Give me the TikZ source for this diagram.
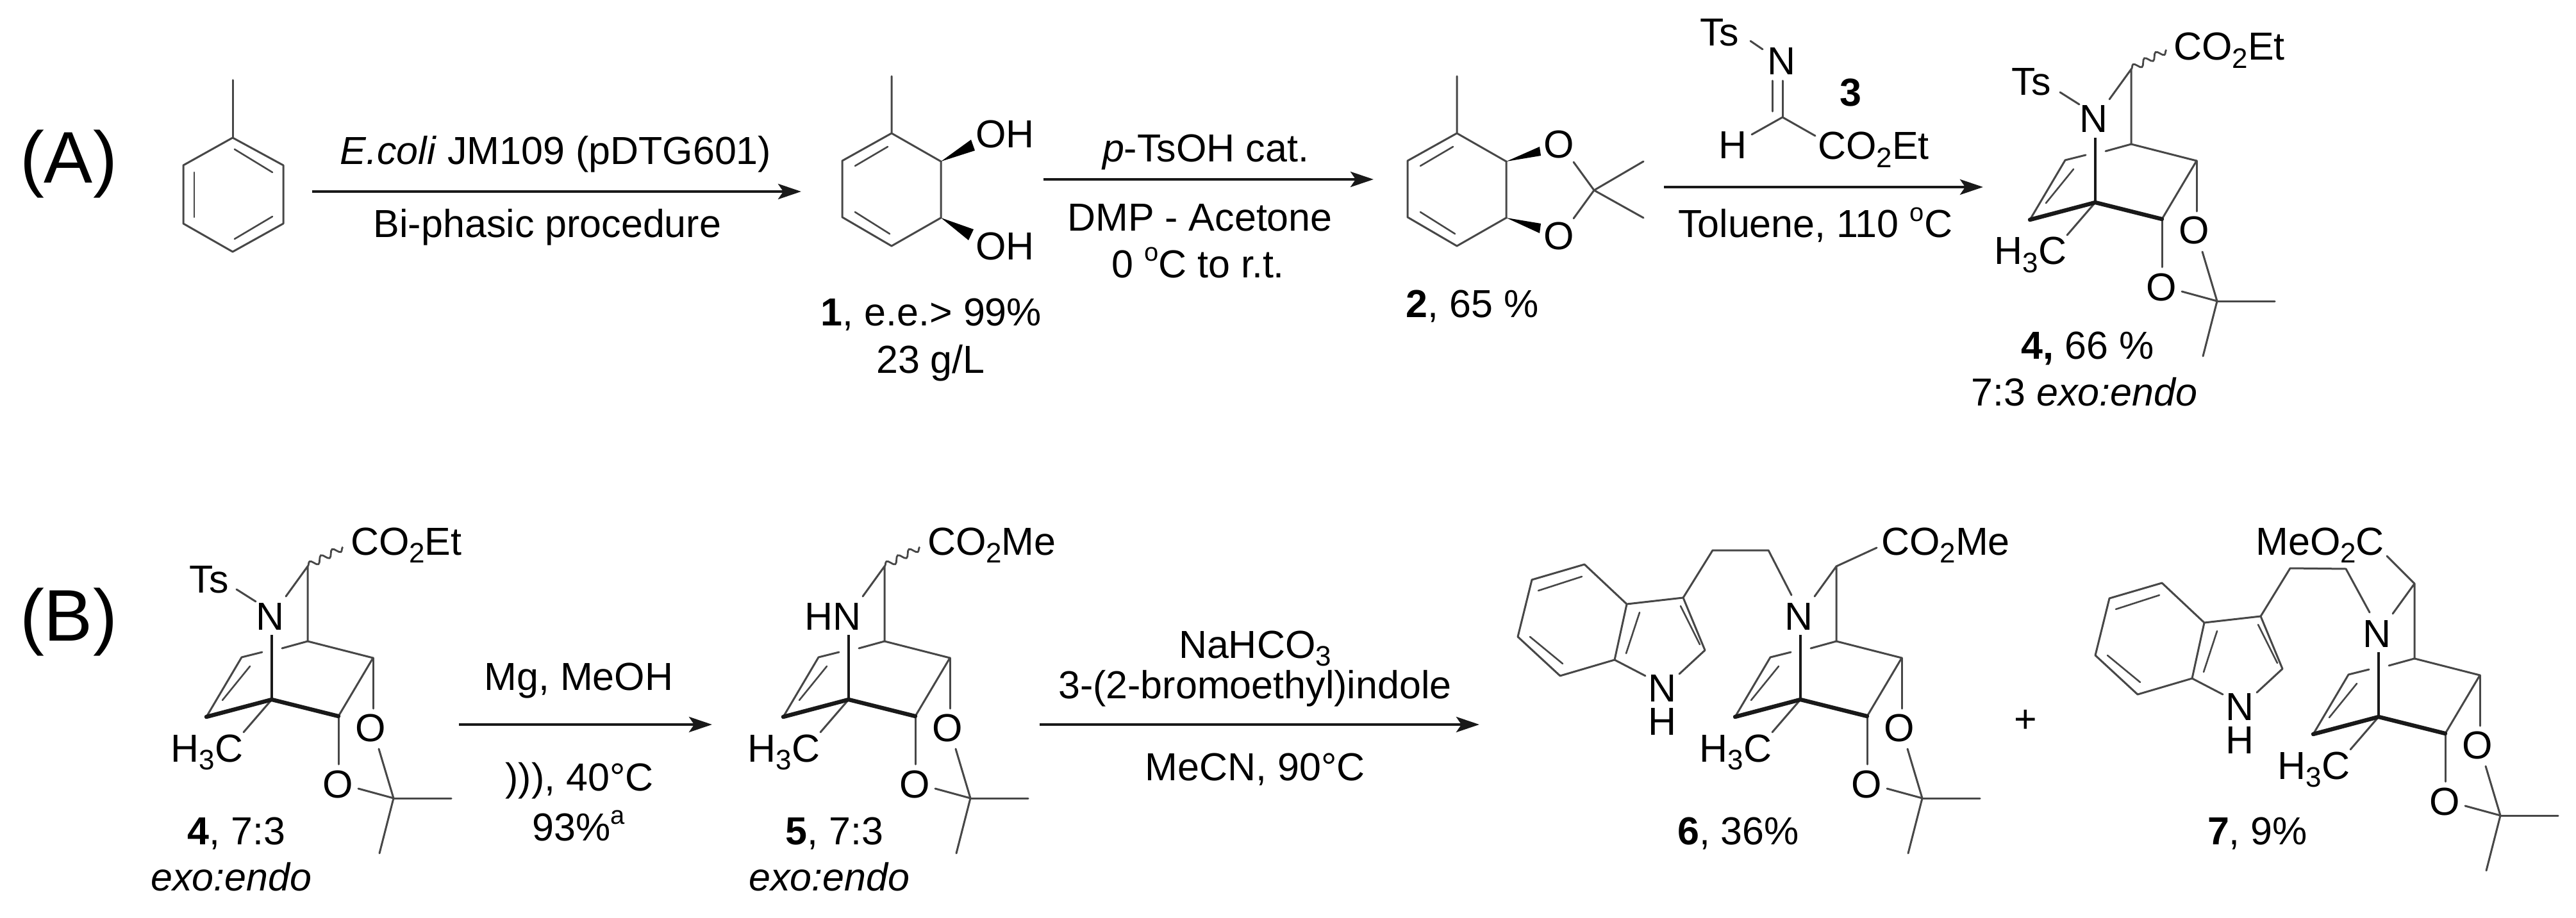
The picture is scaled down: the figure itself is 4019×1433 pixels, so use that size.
\documentclass[tikz,border=0pt]{standalone}
\usepackage{fontspec}
\setmainfont{Liberation Sans}
\usetikzlibrary{arrows.meta,decorations.pathmorphing}
\newcommand\chemdn[1]{\raisebox{-.2em}{\fontsize{22}{22}\selectfont #1}}
\newcommand\chemup[1]{\raisebox{.42em}{\fontsize{20}{20}\selectfont #1}}
\tikzset{
  lab/.style={anchor=base,inner sep=0pt,outer sep=0pt,text=black,font=\fontsize{30.5}{36}\selectfont},
  panel/.style={anchor=base,inner sep=0pt,outer sep=0pt,text=black,font=\fontsize{57}{66}\selectfont},
  bond/.style={draw=black!72,line width=1.5pt,line cap=round,line join=round},
  inner/.style={bond,line width=1.3pt},
  bold/.style={draw=black!90,line width=3.2pt,line cap=round,line join=round},
  semibold/.style={draw=black!90,line width=2.2pt,line cap=butt},
  wedge/.style={fill=black,draw=none},
  wavy/.style={draw=black!72,line width=1.4pt,decorate,decoration={snake,amplitude=2.6pt,segment length=10pt}},
  rxn/.style={draw=black!90,line width=2.2pt,-{Stealth[length=18pt,width=12pt,inset=4pt]}},
  pics/bicyc/.style={code={
    \coordinate (C7) at (3325,108);
    \coordinate (C1) at (3325,225);
    \coordinate (gapa) at (3285,236);
    \coordinate (gapb) at (3254,242);
    \coordinate (Ca) at (3222,250);
    \coordinate (Cb) at (3167,343);
    \coordinate (ina) at (3235,264);
    \coordinate (inb) at (3192,317);
    \coordinate (C4) at (3269,316);
    \coordinate (C5) at (3373,342);
    \coordinate (C6) at (3427,251);
    \coordinate (Nb) at (3269,215);
    \coordinate (Nr) at (3291,155);
    \coordinate (Qc) at (3459,470);
    \coordinate (Mea) at (3549,470);
    \coordinate (Meb) at (3437,556);
    \coordinate (Mec) at (3225,367);
    \coordinate (Ouu) at (3427,330);
    \coordinate (Ulu) at (3373,417);
    \coordinate (Oud) at (3436,393);
    \coordinate (Uld) at (3404,455);
    \node[lab,anchor=base east] (N) at (3289,207) {#1};
    \node[lab] (Ou) at (3423,381) {O};
    \node[lab] (Ol) at (3372,469) {O};
    \node[lab] (Hm) at (3168,413) {H\chemdn{3}C};
    \draw[bond] (Nr) -- (C7) -- (C1) -- (gapa);
    \draw[bond] (gapb) -- (Ca) -- (Cb);
    \draw[inner] (ina) -- (inb);
    \draw[bond] (C1) -- (C6) -- (C5);
    \draw[bond] (C6) -- (Ouu);
    \draw[bond] (C5) -- (Ulu);
    \draw[bond] (Oud) -- (Qc) -- (Uld);
    \draw[bond] (Qc) -- (Mea);
    \draw[bond] (Qc) -- (Meb);
    \draw[bond] (C4) -- (Mec);
    \draw[semibold] (Nb) -- (C4);
    \draw[bold] (Cb) -- (C4) -- (C5);
  }},
  pics/diene/.style={code={
    \coordinate (top) at (2273,208);
    \coordinate (me) at (2273,119);
    \coordinate (ul) at (2196,251);
    \coordinate (ll) at (2196,339);
    \coordinate (bot) at (2273,384);
    \coordinate (ur) at (2350,252);
    \coordinate (lr) at (2350,340);
    \coordinate (ia) at (2216,259);
    \coordinate (ib) at (2267,229);
    \coordinate (ic) at (2216,331);
    \coordinate (id) at (2270,365);
    \draw[bond] (me) -- (top) -- (ul) -- (ll) -- (bot) -- (lr) -- (ur) -- (top);
    \draw[inner] (ia) -- (ib);
    \draw[inner] (ic) -- (id);
  }},
  pics/indole/.style={code={
    \coordinate (C3) at (2626,933);
    \coordinate (C3a) at (2538,943);
    \coordinate (C4) at (2472,881);
    \coordinate (C5) at (2390,905);
    \coordinate (C6) at (2368,994);
    \coordinate (C7) at (2434,1055);
    \coordinate (C7a) at (2519,1030);
    \coordinate (C2) at (2660,1015);
    \coordinate (Na) at (2567,1055);
    \coordinate (Nb) at (2620,1052);
    \coordinate (ia) at (2622,946);
    \coordinate (ib) at (2652,1006);
    \coordinate (ic) at (2558,956);
    \coordinate (id) at (2537,1020);
    \coordinate (ie) at (2468,900);
    \coordinate (if) at (2400,922);
    \coordinate (ig) at (2387,994);
    \coordinate (ih) at (2438,1036);
    \node[lab] (N) at (2593,1095) {N};
    \node[lab] (H) at (2593,1147) {H};
    \draw[bond] (C3) -- (C3a) -- (C4) -- (C5) -- (C6) -- (C7) -- (C7a) -- (C3a);
    \draw[bond] (C3) -- (C2) -- (Nb);
    \draw[bond] (C7a) -- (Na);
    \draw[inner] (ia) -- (ib);
    \draw[inner] (ic) -- (id);
    \draw[inner] (ie) -- (if);
    \draw[inner] (ig) -- (ih);
  }}
}
\begin{document}
\begin{tikzpicture}[x=0.5pt,y=-0.5pt]
\useasboundingbox (0,0) rectangle (4019,1433);
% Panel labels
\node[panel] (panelA) at (107,286) {(A)};
\node[panel] (panelB) at (107,1000) {(B)};
% Toluene
\coordinate (bme) at (363,125);
\coordinate (b1) at (363,215);
\coordinate (b2) at (442,258);
\coordinate (b3) at (442,349);
\coordinate (b4) at (363,393);
\coordinate (b5) at (286,349);
\coordinate (b6) at (286,258);
\coordinate (bi1) at (366,233);
\coordinate (bi2) at (425,269);
\coordinate (bi3) at (303,269);
\coordinate (bi4) at (303,339);
\coordinate (bi5) at (425,338);
\coordinate (bi6) at (366,373);
\draw[bond] (bme) -- (b1);
\draw[bond] (b1) -- (b2) -- (b3) -- (b4) -- (b5) -- (b6) -- cycle;
\draw[inner] (bi1) -- (bi2);
\draw[inner] (bi3) -- (bi4);
\draw[inner] (bi5) -- (bi6);
% Arrow 1
\coordinate (a1s) at (487,299);
\coordinate (a1e) at (1250,299);
\draw[rxn] (a1s) -- (a1e);
\node[lab] (t1a) at (867,257) {\textit{E.coli} JM109 (pDTG601)};
\node[lab] (t1b) at (854,371) {Bi-phasic procedure};
% Compound 1
\pic (one) at (-882,0) {diene};
\coordinate (w1a) at (1515,218);
\coordinate (w1b) at (1521,235);
\coordinate (w1c) at (1519,358);
\coordinate (w1d) at (1511,375);
\fill[wedge] (oneur) -- (w1a) -- (w1b) -- cycle;
\fill[wedge] (onelr) -- (w1c) -- (w1d) -- cycle;
\node[lab,anchor=base west] (oh1) at (1522,231) {OH};
\node[lab,anchor=base west] (oh2) at (1522,406) {OH};
\node[lab] (lab1) at (1453,508) {\textbf{1}, e.e.> 99\%};
\node[lab] (lab1b) at (1452,582) {23 g/L};
% Arrow 2
\coordinate (a2s) at (1628,280);
\coordinate (a2e) at (2143,280);
\draw[rxn] (a2s) -- (a2e);
\node[lab] (t2a) at (1881,253) {\textit{p}-TsOH cat.};
\node[lab] (t2b) at (1872,361) {DMP - Acetone};
\node[lab] (t2c) at (1869,433) {0 \chemup{o}C to r.t.};
% Compound 2
\pic (two) at (0,0) {diene};
\node[lab] (o2a) at (2432,247) {O};
\node[lab] (o2b) at (2432,390) {O};
\coordinate (w2a) at (2402,229);
\coordinate (w2b) at (2404,243);
\coordinate (w2c) at (2404,349);
\coordinate (w2d) at (2402,364);
\fill[wedge] (twour) -- (w2a) -- (w2b) -- cycle;
\fill[wedge] (twolr) -- (w2c) -- (w2d) -- cycle;
\coordinate (q2) at (2487,297);
\coordinate (q2a) at (2455,253);
\coordinate (q2b) at (2455,341);
\coordinate (q2c) at (2564,252);
\coordinate (q2d) at (2564,340);
\draw[bond] (q2a) -- (q2) -- (q2b);
\draw[bond] (q2c) -- (q2) -- (q2d);
\node[lab] (lab2) at (2297,495) {\textbf{2}, 65 \%};
% Arrow 3 with imine 3
\coordinate (a3s) at (2596,292);
\coordinate (a3e) at (3094,292);
\draw[rxn] (a3s) -- (a3e);
\node[lab,anchor=base west] (ts3) at (2652,72) {Ts};
\node[lab] (n3) at (2779,117) {N};
\node[lab] (h3) at (2703,248) {H};
\node[lab,anchor=base west] (ce3) at (2836,249) {CO\chemdn{2}Et};
\node[lab] (num3) at (2887,166) {\textbf{3}};
\coordinate (i1) at (2731,64);
\coordinate (i2) at (2750,77);
\coordinate (i3) at (2765,126);
\coordinate (i4) at (2765,174);
\coordinate (i5) at (2781,126);
\coordinate (ic) at (2781,183);
\coordinate (i6) at (2733,210);
\coordinate (i7) at (2832,212);
\draw[bond] (i1) -- (i2);
\draw[bond] (i3) -- (i4);
\draw[bond] (i5) -- (ic);
\draw[bond] (i6) -- (ic) -- (i7);
\node[lab] (t3) at (2832,371) {Toluene, 110 \chemup{o}C};
% Compound 4 (A)
\pic (pA) at (0,0) {bicyc=N};
\node[lab] (tsA) at (3169,149) {Ts};
\coordinate (tsAa) at (3214,144);
\coordinate (tsAb) at (3244,163);
\draw[bond] (tsAa) -- (tsAb);
\coordinate (wA) at (3380,78);
\draw[wavy] (pAC7) -- (wA);
\node[lab,anchor=base west] (ceA) at (3391,94) {CO\chemdn{2}Et};
\node[lab] (lab4) at (3257,560) {\textbf{4,} 66 \%};
\node[lab] (lab4b) at (3252,633) {7:3 \textit{exo:endo}};
% Compound 4 (B)
\pic (pB) at (-2845,776) {bicyc=N};
\node[lab] (tsB) at (326,925) {Ts};
\coordinate (tsBa) at (369,920);
\coordinate (tsBb) at (399,939);
\draw[bond] (tsBa) -- (tsBb);
\coordinate (wB) at (535,854);
\draw[wavy] (pBC7) -- (wB);
\node[lab,anchor=base west] (ceB) at (547,866) {CO\chemdn{2}Et};
\node[lab] (lab4c) at (369,1318) {\textbf{4}, 7:3};
\node[lab] (lab4d) at (361,1390) {\textit{exo:endo}};
% Arrow B1
\coordinate (b1s) at (716,1131);
\coordinate (b1e) at (1111,1131);
\draw[rxn] (b1s) -- (b1e);
\node[lab] (tb1) at (903,1077) {Mg, MeOH};
\node[lab] (tb2) at (904,1234) {))), 40°C};
\node[lab] (tb3) at (903,1312) {93\%\chemup{a}};
% Compound 5
\pic (pC) at (-1945,776) {bicyc=HN};
\coordinate (wC) at (1435,854);
\draw[wavy] (pCC7) -- (wC);
\node[lab,anchor=base west] (ceC) at (1447,866) {CO\chemdn{2}Me};
\node[lab] (lab5) at (1302,1318) {\textbf{5}, 7:3};
\node[lab] (lab5b) at (1294,1390) {\textit{exo:endo}};
% Arrow B2
\coordinate (b2s) at (1622,1131);
\coordinate (b2e) at (2308,1131);
\draw[rxn] (b2s) -- (b2e);
\node[lab] (tc1) at (1958,1027) {NaHCO\chemdn{3}};
\node[lab] (tc2) at (1958,1090) {3-(2-bromoethyl)indole};
\node[lab] (tc3) at (1958,1218) {MeCN, 90°C};
% Compound 6
\pic (ind6) at (0,0) {indole};
\pic (pD) at (-460,776) {bicyc=N};
\coordinate (c6a) at (2672,859);
\coordinate (c6b) at (2759,859);
\coordinate (c6c) at (2795,929);
\draw[bond] (ind6C3) -- (c6a) -- (c6b) -- (c6c);
\coordinate (c6d) at (2928,855);
\draw[bond] (pDC7) -- (c6d);
\node[lab,anchor=base west] (ceD) at (2935,866) {CO\chemdn{2}Me};
\node[lab] (lab6) at (2712,1318) {\textbf{6}, 36\%};
% Plus
\node[lab] (plus) at (3160,1143) {+};
% Compound 7
\pic (ind7) at (901,29) {indole};
\pic (pE) at (442,803) {bicyc=N};
\coordinate (c7a) at (3573,887);
\coordinate (c7b) at (3660,888);
\coordinate (c7c) at (3697,956);
\draw[bond] (ind7C3) -- (c7a) -- (c7b) -- (c7c);
\coordinate (c7d) at (3724,868);
\draw[bond] (pEC7) -- (c7d);
\node[lab,anchor=base east] (ceE) at (3720,866) {MeO\chemdn{2}C};
\node[lab] (lab7) at (3522,1318) {\textbf{7}, 9\%};
\end{tikzpicture}
\end{document}
